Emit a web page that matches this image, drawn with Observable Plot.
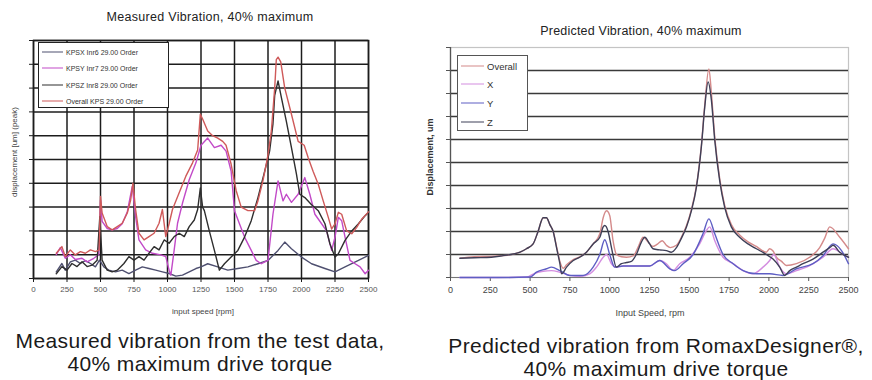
<!DOCTYPE html>
<html><head><meta charset="utf-8">
<script src="https://cdn.jsdelivr.net/npm/d3@7"></script>
<script src="https://cdn.jsdelivr.net/npm/@observablehq/plot@0.6"></script>
<style>
body{margin:0;background:#fff;}
#wrap{position:relative;width:872px;height:380px;overflow:hidden;background:#fff;font-family:"Liberation Sans",Arial,sans-serif;color:#222;}
.abs{position:absolute;white-space:nowrap;transform:translate(-50%,-50%);line-height:1;}
.plot{position:absolute;top:0;}
.legend{position:absolute;background:#fff;}
.legend .row{position:absolute;left:0;display:flex;align-items:center;white-space:nowrap;transform:translateY(-50%);}
.legend .sw{display:inline-block;height:0;border-top:1.5px solid;}
</style></head><body><div id="wrap"></div>
<script>
// ---------- data ----------
const xTicks = [0,250,500,750,1000,1250,1500,1750,2000,2250,2500];
const yTicks = [0,1,2,3,4,5,6,7,8,9,10];

const measuredNames = ["KPSX Inr6 29.00 Order","KPSY Inr7 29.00 Order","KPSZ Inr8 29.00 Order","Overall KPS 29.00 Order"];
const measuredColors = ["#4f5070","#c24ac8","#2e2e2e","#cf5a5a"];

const measuredX = [[170,0.28],[212,0.63],[237,0.35],[275,0.7],[312,0.77],[350,0.63],[387,0.75],[425,0.63],[462,0.49],[492,0.77],[525,0.49],[562,0.35],[612,0.28],[662,0.35],[712,0.21],[762,0.35],[812,0.49],[862,0.42],[912,0.35],[962,0.28],[1012,0.21],[1062,0.1],[1112,0.14],[1162,0.28],[1212,0.42],[1250,0.49],[1300,0.62],[1375,0.49],[1450,0.35],[1525,0.42],[1600,0.49],[1675,0.62],[1750,0.76],[1825,1.18],[1875,1.53],[1925,1.25],[2000,0.9],[2075,0.62],[2175,0.42],[2250,0.28],[2325,0.49],[2425,0.76],[2500,0.97]];
const measuredY = [[170,1.0],[200,1.3],[237,0.85],[275,1.0],[312,0.8],[362,0.85],[400,0.7],[450,0.85],[487,1.0],[500,3.3],[512,2.4],[550,2.1],[587,2.04],[625,2.1],[662,2.3],[700,2.8],[737,3.87],[762,2.6],[787,1.62],[837,1.2],[887,1.06],[950,0.99],[987,0.92],[1012,0.35],[1025,0.14],[1050,1.2],[1075,2.32],[1112,3.17],[1162,4.15],[1212,4.86],[1250,5.6],[1300,5.9],[1350,5.5],[1400,5.6],[1437,5.35],[1475,4.5],[1500,2.85],[1537,2.3],[1575,1.74],[1625,1.18],[1662,0.76],[1700,0.62],[1750,0.76],[1787,2.7],[1825,4.1],[1862,3.26],[1887,3.54],[1925,3.2],[1975,3.54],[2025,4.24],[2062,3.54],[2100,2.7],[2150,2.3],[2187,2.0],[2225,1.18],[2250,1.74],[2275,2.57],[2300,2.43],[2325,1.74],[2362,0.76],[2400,0.62],[2437,0.49],[2475,0.2],[2500,0.35]];
const measuredZ = [[170,0.2],[212,0.5],[250,0.35],[287,0.63],[325,0.5],[362,0.7],[400,0.5],[437,0.56],[475,0.77],[495,2.6],[512,0.77],[550,0.35],[587,0.28],[625,0.35],[675,0.63],[712,0.92],[750,0.77],[787,0.92],[825,0.77],[862,1.06],[900,1.34],[937,1.2],[975,1.62],[1012,1.48],[1050,1.76],[1087,1.9],[1125,1.76],[1162,2.18],[1200,2.46],[1225,2.9],[1245,3.8],[1262,3.0],[1275,2.85],[1312,2.0],[1350,1.18],[1387,0.35],[1425,0.62],[1475,0.9],[1525,1.18],[1575,1.74],[1625,2.43],[1675,3.4],[1725,4.5],[1762,5.35],[1787,6.5],[1800,7.7],[1825,8.3],[1850,7.6],[1887,6.6],[1925,5.5],[1962,4.4],[1987,3.54],[2025,3.4],[2075,3.1],[2125,2.85],[2175,2.3],[2212,1.46],[2250,0.9],[2275,1.04],[2325,1.6],[2375,2.0],[2425,2.3],[2475,2.64],[2500,2.78]];
const measuredOverall = [[170,1.06],[212,1.34],[237,0.92],[275,1.2],[312,0.99],[350,1.13],[387,1.06],[425,1.2],[462,1.13],[490,1.2],[500,3.45],[512,2.75],[550,2.18],[587,2.04],[625,2.18],[662,2.32],[700,2.75],[725,3.3],[742,4.0],[762,2.9],[787,1.9],[825,1.62],[862,1.76],[900,1.9],[937,2.32],[962,2.9],[987,1.76],[1012,2.3],[1037,2.9],[1087,3.6],[1137,4.3],[1187,4.86],[1225,5.4],[1245,6.9],[1262,6.7],[1300,6.2],[1337,6.0],[1375,5.9],[1412,5.76],[1437,5.6],[1475,4.8],[1512,3.7],[1550,3.0],[1600,2.85],[1650,2.85],[1675,3.26],[1712,4.1],[1737,4.8],[1750,5.2],[1775,6.2],[1800,8.0],[1812,9.2],[1825,9.3],[1845,9.1],[1875,8.0],[1925,6.9],[1975,5.76],[2020,5.6],[2050,5.07],[2087,4.5],[2125,3.96],[2162,3.26],[2200,2.57],[2225,2.08],[2250,2.3],[2275,2.78],[2300,2.7],[2337,2.0],[2375,1.88],[2412,2.15],[2450,2.5],[2500,2.8]];

const predictedNames = ["Overall","X","Y","Z"];
const predictedColors = ["#d48a8a","#d48ee0","#5e5ec4","#3f4058"];

const predictedOverall = [[59,0.84],[150,0.9],[257,0.92],[330,0.95],[437,1.1],[477,1.25],[519,1.46],[550,2.0],[582,2.6],[603,2.6],[624,2.3],[645,2.0],[666,1.35],[687,0.7],[708,0.4],[729,0.55],[771,0.78],[812,0.9],[854,1.1],[896,1.46],[938,1.9],[959,2.6],[980,2.9],[1000,2.7],[1021,1.6],[1042,1.0],[1074,0.9],[1105,0.88],[1150,0.95],[1180,1.35],[1210,1.75],[1240,1.55],[1272,1.35],[1300,1.45],[1330,1.6],[1356,1.4],[1380,1.3],[1419,1.4],[1450,1.75],[1482,2.25],[1513,2.95],[1544,3.95],[1576,5.75],[1597,7.5],[1623,9.07],[1639,8.0],[1660,6.1],[1691,4.3],[1722,3.15],[1764,2.3],[1816,1.85],[1869,1.55],[1921,1.35],[1984,1.1],[2005,1.25],[2026,1.15],[2047,0.88],[2080,0.7],[2110,0.52],[2173,0.6],[2256,0.88],[2319,1.3],[2350,1.7],[2382,2.2],[2445,1.75],[2500,1.25]];
const predictedX = [[59,0],[300,0],[480,0.02],[519,0.15],[582,0.27],[634,0.3],[687,0.23],[749,0.09],[812,0.05],[875,0.16],[917,0.45],[959,0.88],[980,1.0],[1011,0.6],[1042,0.45],[1084,0.5],[1167,0.5],[1251,0.5],[1314,0.74],[1356,0.6],[1398,0.3],[1440,0.6],[1503,0.88],[1565,1.46],[1607,2.04],[1628,2.2],[1660,1.6],[1712,0.88],[1775,0.6],[1838,0.3],[1900,0.16],[1963,0.45],[2005,0.74],[2030,1.0],[2068,0.45],[2110,0.16],[2173,0.3],[2256,0.52],[2340,0.88],[2403,1.25],[2466,1.0],[2500,0.88]];
const predictedY = [[59,0],[300,0],[500,0.02],[540,0.23],[603,0.38],[634,0.45],[687,0.3],[749,0.09],[833,0.09],[896,0.45],[938,1.0],[969,1.64],[1000,1.0],[1032,0.45],[1084,0.5],[1167,0.5],[1251,0.5],[1314,0.74],[1377,0.38],[1408,0.3],[1461,0.6],[1524,1.0],[1586,1.9],[1623,2.55],[1660,1.9],[1712,1.0],[1775,0.6],[1838,0.3],[1921,0.16],[2005,0.16],[2089,0.09],[2173,0.38],[2277,0.6],[2340,0.95],[2403,1.46],[2456,1.17],[2500,0.6]];
const predictedZ = [[59,0.84],[150,0.86],[257,0.88],[330,0.95],[437,1.1],[477,1.25],[519,1.46],[550,2.0],[582,2.6],[603,2.6],[624,2.3],[645,2.0],[666,1.3],[687,0.6],[698,0.16],[729,0.45],[771,0.74],[812,0.88],[854,1.1],[896,1.46],[938,1.75],[959,2.2],[969,2.26],[990,2.0],[1011,1.3],[1042,0.45],[1074,0.6],[1105,0.65],[1136,0.7],[1167,1.0],[1199,1.54],[1220,1.75],[1251,1.46],[1272,1.25],[1314,1.2],[1356,1.17],[1387,1.1],[1419,1.3],[1450,1.7],[1482,2.2],[1513,2.9],[1544,3.9],[1576,5.7],[1597,7.4],[1618,8.5],[1639,7.7],[1660,5.96],[1691,4.2],[1722,3.06],[1764,2.2],[1816,1.75],[1869,1.46],[1921,1.25],[1984,1.0],[2026,0.8],[2068,0.45],[2099,0.09],[2131,0.3],[2173,0.45],[2214,0.6],[2277,0.8],[2340,1.1],[2382,1.3],[2403,1.4],[2445,1.1],[2500,0.88]];

const titles = ["Measured Vibration, 40% maximum","Predicted Vibration, 40% maximum"];
const yLabels = ["displacement [um] (peak)","Displacement, um"];
const xLabels = ["input speed [rpm]","Input Speed, rpm"];
const captions = [["Measured vibration from the test data,","40% maximum drive torque"],["Predicted vibration from RomaxDesigner®,","40% maximum drive torque"]];

// ---------- build ----------
const wrap = document.getElementById("wrap");
const toRows = (arr) => arr.map(([rpm, v]) => ({rpm, v}));

function lineMark(arr, color, curve, w) {
  return Plot.line(toRows(arr), {x: "rpm", y: "v", stroke: color, strokeWidth: w, curve});
}

const leftSeries = [measuredX, measuredY, measuredZ, measuredOverall];
const left = Plot.plot({
  width: 400, height: 300,
  marginLeft: 33, marginRight: 32, marginTop: 40, marginBottom: 22,
  style: {background: "transparent", fontFamily: "Liberation Sans, Arial, sans-serif", fontSize: "8px", color: "#333", overflow: "visible"},
  x: {domain: [0, 2500], axis: null},
  y: {domain: [0, 10], axis: null},
  marks: [
    Plot.gridX(xTicks, {stroke: "#1c1c1c", strokeOpacity: 1, strokeWidth: 1.5}),
    Plot.gridY(yTicks, {stroke: "#1c1c1c", strokeOpacity: 1, strokeWidth: 1.5}),
    Plot.frame({stroke: "#1c1c1c", strokeWidth: 1.5}),
    Plot.axisX(xTicks, {label: null, tickSize: 4, tickPadding: 4, tickFormat: "d", stroke: "#1c1c1c", fill: "#555", fontSize: 8}),
    Plot.axisY(yTicks, {label: null, tickSize: 4, tickFormat: () => "", stroke: "#1c1c1c"}),
    ...leftSeries.map((s, i) => lineMark(s, measuredColors[i], "linear", 1.4))
  ]
});
left.classList.add("plot"); left.style.left = "0px";
wrap.appendChild(left);

const rightSeries = [predictedOverall, predictedX, predictedY, predictedZ];
const right = Plot.plot({
  width: 472, height: 300,
  marginLeft: 50, marginRight: 24, marginTop: 47, marginBottom: 23,
  style: {background: "transparent", fontFamily: "Liberation Sans, Arial, sans-serif", fontSize: "9px", color: "#333", overflow: "visible"},
  x: {domain: [0, 2500], axis: null},
  y: {domain: [0, 10], axis: null},
  marks: [
    Plot.frame({stroke: "#c4c4c4", strokeWidth: 1.2}),
    Plot.gridY(yTicks.filter(d => d > 0 && d < 10), {stroke: "#3a3a3a", strokeOpacity: 1, strokeWidth: 1.5}),
    Plot.ruleY([0], {stroke: "#777", strokeWidth: 1.2}),
    Plot.ruleX([0], {stroke: "#555", strokeWidth: 1.3}),
    Plot.axisX(xTicks, {label: null, tickSize: 4, tickPadding: 5, tickFormat: "d", stroke: "#555", fill: "#444", fontSize: 9}),
    Plot.axisY(yTicks, {label: null, tickSize: 4, tickFormat: () => "", stroke: "#555"}),
    ...rightSeries.map((s, i) => lineMark(s, predictedColors[i], "monotone-x", 1.4))
  ]
});
right.classList.add("plot"); right.style.left = "400px";
wrap.appendChild(right);

function text(str, x, y, css) {
  const d = document.createElement("div");
  d.className = "abs";
  d.textContent = str;
  d.style.left = x + "px"; d.style.top = y + "px";
  Object.assign(d.style, css || {});
  wrap.appendChild(d);
  return d;
}

// titles
text(titles[0], 210, 17, {fontSize: "12.5px", letterSpacing: "0.3px", color: "#222"});
text(titles[1], 641, 31, {fontSize: "12.5px", letterSpacing: "0.2px", color: "#222"});
// axis labels
text(yLabels[0], 15, 152, {fontSize: "8px", color: "#444", transform: "translate(-50%,-50%) rotate(-90deg)"});
text(yLabels[1], 430, 157, {fontSize: "9px", fontWeight: "bold", color: "#333", transform: "translate(-50%,-50%) rotate(-90deg)"});
text(xLabels[0], 203, 312, {fontSize: "8px", color: "#444"});
text(xLabels[1], 650, 313, {fontSize: "9px", color: "#444"});
// captions
const capCss = {fontSize: "21px", letterSpacing: "0.4px", color: "#1a1a1a"};
text(captions[0][0], 200, 340, capCss);
text(captions[0][1], 200, 363, capCss);
text(captions[1][0], 656, 345, capCss);
text(captions[1][1], 656, 368, capCss);

// legends
function legend(x, y, w, h, names, colors, rowYs, swW, gap, fs, border) {
  const box = document.createElement("div");
  box.className = "legend";
  Object.assign(box.style, {left: x + "px", top: y + "px", width: w + "px", height: h + "px", border: border, boxSizing: "border-box"});
  names.forEach((n, i) => {
    const r = document.createElement("div");
    r.className = "row";
    r.style.top = rowYs[i] + "px";
    r.style.left = "3px";
    const sw = document.createElement("span");
    sw.className = "sw";
    sw.style.width = swW + "px";
    sw.style.borderTopColor = colors[i];
    const t = document.createElement("span");
    t.textContent = n;
    t.style.fontSize = fs + "px";
    t.style.marginLeft = gap + "px";
    t.style.color = "#333";
    r.appendChild(sw); r.appendChild(t);
    box.appendChild(r);
  });
  wrap.appendChild(box);
}
legend(38, 42, 131, 66, measuredNames, measuredColors, [9, 25, 42, 58], 21, 3, 7, "1.5px solid #222");
legend(457, 55, 71, 76, predictedNames, predictedColors, [10, 28, 47, 66], 23, 3, 9.5, "1.5px solid #555");
</script>
</body></html>
